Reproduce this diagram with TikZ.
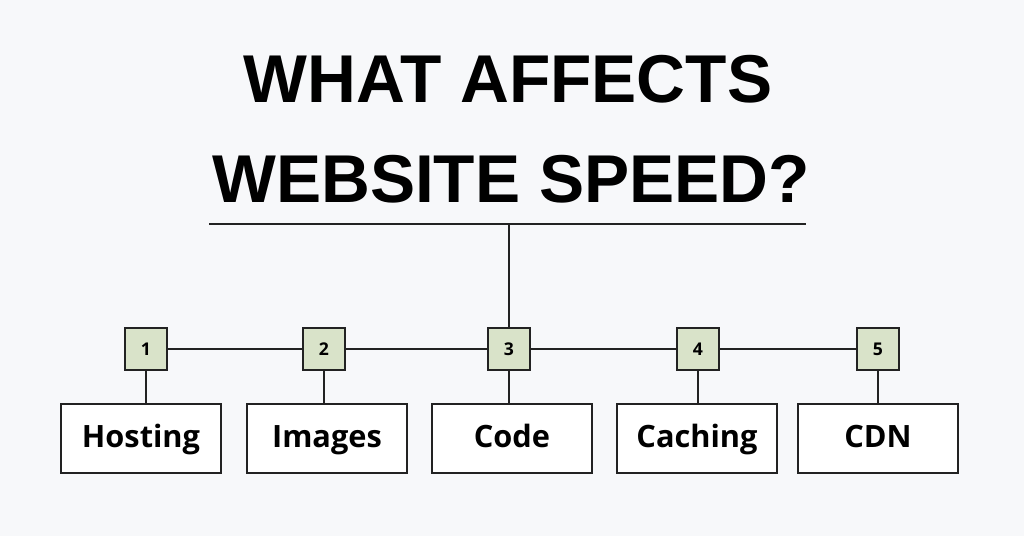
\documentclass[tikz,border=0pt]{standalone}
\usepackage{fontspec}
\setmainfont{Open Sans}
\newfontfamily\titlefont{Liberation Sans}
\usetikzlibrary{positioning}
\definecolor{bgpaper}{HTML}{F7F8FA}
\definecolor{numfill}{HTML}{D9E3C9}
\definecolor{inkline}{HTML}{222222}

\begin{document}
\begin{tikzpicture}[x=0.02cm, y=-0.02cm,
    numbox/.style={draw=inkline, fill=numfill, line width=1.1pt,
                   minimum width=0.84cm, minimum height=0.84cm,
                   inner sep=0pt, font=\bfseries\fontsize{10}{12}\selectfont},
    factor/.style={draw=inkline, fill=white, line width=1.1pt,
                   minimum width=3.2cm, minimum height=1.38cm,
                   text height=1.05em, text depth=0em,
                   inner sep=0pt, font=\bfseries\fontsize{17.5}{20}\selectfont},
    link/.style={draw=inkline, line width=1.1pt}]
    % Background
        \fill[bgpaper] (0,0) rectangle (1024,536);
        \useasboundingbox (0,0) rectangle (1024,536);
    % Title
		\node[font=\titlefont\bfseries\fontsize{38.5}{46}\selectfont,
			text=black
			] (title1) at (508,79) {WHAT AFFECTS};
		\node[font=\titlefont\bfseries\fontsize{38.5}{46}\selectfont,
			text=black
			] (title2) at (511,179) {WEBSITE SPEED?};
		\coordinate (rulel) at (209,224);
		\coordinate (ruler) at (806,224);
		\coordinate (rulem) at (509,224);
    % Numbered boxes
		\node[numbox] (n1) at (146,349) {1};
		\node[numbox] (n2) at (324,349) {2};
		\node[numbox] (n3) at (509,349) {3};
		\node[numbox] (n4) at (698,349) {4};
		\node[numbox] (n5) at (878,349) {5};
    % Factors
		\node[factor,
			below=0.64 cm of n1,
			xshift=-0.1 cm
			] (hosting) {Hosting};
		\node[factor,
			below=0.64 cm of n2,
			xshift=0.06 cm
			] (images) {Images};
		\node[factor,
			below=0.64 cm of n3,
			xshift=0.06 cm
			] (code) {Code};
		\node[factor,
			below=0.64 cm of n4,
			xshift=-0.02 cm
			] (caching) {Caching};
		\node[factor,
			below=0.64 cm of n5
			] (cdn) {CDN};

       \draw[link]
			(rulel) -- (ruler)
			(rulem) -- (n3.north)
			(n1) -- (n2)
			(n2) -- (n3)
			(n3) -- (n4)
			(n4) -- (n5);
       \foreach \n/\f in {n1/hosting, n2/images, n3/code, n4/caching, n5/cdn}
			\draw[link] (\n.south) -- (\n.south |- \f.north);
\end{tikzpicture}
\end{document}
